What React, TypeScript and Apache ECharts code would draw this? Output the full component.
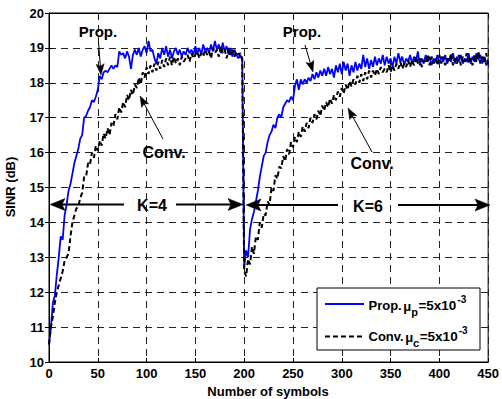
import React, { useEffect, useRef } from "react";
import * as echarts from "echarts";

// Symbol index (sampled every 2 symbols), 0..450
const SYMBOLS: number[] = Array.from({ length: 226 }, (_, i) => i * 2);

// Proposed scheme, K=4 phase (symbols 0..198)
const PROP_K4: number[] = [
  10.5, 11.0, 11.7, 11.9, 12.5, 13.0, 13.6, 13.5, 14.2, 14.5,
  14.9, 15.1, 15.4, 15.7, 15.9, 16.1, 16.4, 16.5, 17.0, 17.05,
  17.2, 17.3, 17.5, 17.45, 17.6, 17.8, 18.2, 18.1, 18.3, 18.35,
  18.3, 18.4, 18.5, 18.4, 18.5, 18.45, 18.9, 18.8, 18.85, 18.7,
  18.9, 18.75, 18.4, 18.8, 18.95, 18.8, 19.0, 18.75, 18.95, 19.05,
  18.85, 19.2, 18.9, 18.95, 18.7, 18.55, 18.85, 18.7, 19.0, 18.8,
  19.05, 18.75, 18.95, 18.7, 18.9, 19.0, 18.8, 18.95, 18.75, 18.9,
  18.8, 19.0, 18.85, 18.95, 18.8, 19.05, 18.85, 19.0, 18.8, 19.1,
  18.9, 19.0, 18.85, 19.1, 18.9, 19.2, 18.95, 19.1, 18.85, 19.15,
  18.9, 19.05, 18.8, 19.0, 18.75, 18.95, 18.8, 18.7, 18.8, 18.65,
];
// Proposed scheme, K=6 phase (symbols 200..450)
const PROP_K6: number[] = [
  12.7, 13.2, 13.0, 13.8, 14.1, 14.3, 14.6, 14.9, 15.3, 15.6,
  15.9, 16.0, 16.3, 16.5, 16.6, 16.8, 16.7, 17.0, 17.1, 17.0,
  17.3, 17.4, 17.5, 17.45, 17.6, 17.5, 17.9, 18.1, 17.8, 18.1,
  17.95, 18.1, 18.0, 18.15, 18.05, 18.25, 18.1, 18.3, 18.15, 18.35,
  18.2, 18.4, 18.2, 18.45, 18.25, 18.4, 18.15, 18.5, 18.3, 18.55,
  18.25, 18.6, 18.35, 18.55, 18.2, 18.5, 18.3, 18.6, 18.35, 18.55,
  18.4, 18.8, 18.45, 18.7, 18.4, 18.65, 18.45, 18.75, 18.5, 18.7,
  18.55, 18.8, 18.5, 18.75, 18.55, 18.7, 18.45, 18.75, 18.55, 18.85,
  18.6, 18.75, 18.5, 18.7, 18.6, 18.8, 18.55, 18.75, 18.6, 18.9,
  18.5, 18.7, 18.55, 18.8, 18.6, 18.75, 18.5, 18.7, 18.6, 18.8,
  18.55, 18.75, 18.6, 18.8, 18.55, 18.7, 18.6, 18.85, 18.55, 18.75,
  18.6, 18.8, 18.55, 18.7, 18.6, 18.85, 18.55, 18.75, 18.6, 18.85,
  18.65, 18.8, 18.55, 18.75, 18.5, 18.6,
];
// Conventional scheme, K=4 phase (symbols 0..198)
const CONV_K4: number[] = [
  10.5, 11.0, 11.3, 11.7, 12.0, 12.2, 12.4, 12.6, 12.9, 13.0,
  13.1, 13.6, 14.0, 14.2, 14.4,
  14.45, 14.7, 14.85, 15.3, 15.3, 15.7, 15.65, 16.0, 15.85, 16.2,
  16.05, 16.35, 16.2, 16.55, 16.4, 16.7, 16.5, 16.85, 16.75, 17.1,
  16.95, 17.3, 17.15, 17.45, 17.3, 17.65, 17.5, 17.8, 17.65, 17.95,
  17.85, 18.15, 17.95, 18.3, 18.15, 18.45, 18.25, 18.5, 18.3, 18.55,
  18.35, 18.6, 18.4, 18.65, 18.45, 18.7, 18.5, 18.75, 18.5, 18.75,
  18.55,
  18.7, 18.5, 18.75, 18.6, 18.7, 18.8, 18.6, 18.85, 18.7, 18.8,
  18.9, 18.7, 18.85, 18.75, 18.95, 18.8, 18.9, 18.7, 19.0, 18.85,
  18.95, 18.75, 19.05, 18.85, 18.95, 18.7, 19.0, 18.8, 18.95, 18.75,
  18.9, 18.8, 18.85, 18.7,
];
// Conventional scheme, K=6 phase (symbols 200..450)
const CONV_K6: number[] = [
  12.6, 12.45, 12.95, 12.8, 13.3, 13.1, 13.6, 13.5, 14.0, 13.85,
  14.25, 14.2, 14.6, 14.5, 15.0, 14.9, 15.35, 15.25, 15.6, 15.55,
  15.9, 15.75, 16.1, 15.95, 16.3, 16.15, 16.45, 16.3, 16.6, 16.45,
  16.75, 16.6, 16.85, 16.7, 17.0, 16.85, 17.1, 16.95, 17.2, 17.05,
  17.35, 17.2, 17.45, 17.3, 17.55, 17.4, 17.65, 17.5, 17.75, 17.6,
  17.85, 17.7, 17.95, 17.8, 18.05, 17.9, 18.1, 17.95, 18.2, 18.0,
  18.25, 18.05, 18.3, 18.1, 18.35, 18.15, 18.35, 18.2, 18.4, 18.25,
  18.45,
  18.3, 18.4, 18.3, 18.5, 18.3, 18.5, 18.35, 18.55, 18.4, 18.6,
  18.4, 18.55, 18.45, 18.65, 18.45, 18.65, 18.5, 18.75, 18.55, 18.7,
  18.45, 18.65, 18.55, 18.8, 18.5, 18.75, 18.55, 18.7, 18.5, 18.8,
  18.55, 18.75, 18.5, 18.7, 18.6, 18.85, 18.5, 18.7, 18.55, 18.8,
  18.5, 18.75, 18.6, 18.85, 18.55, 18.7, 18.5, 18.8, 18.6, 18.9,
  18.55, 18.75, 18.6, 18.85, 18.5,
];

const PROP: number[] = [...PROP_K4, ...PROP_K6];
const CONV: number[] = [...CONV_K4, ...CONV_K6];

const FONT = "'Liberation Sans', Arial, Helvetica, sans-serif";

let measureCtx: CanvasRenderingContext2D | null = null;
function textWidth(text: string, size: number): number {
  if (!measureCtx) measureCtx = document.createElement("canvas").getContext("2d");
  if (!measureCtx) return text.length * size * 0.6;
  measureCtx.font = `bold ${size}px ${FONT}`;
  return measureCtx.measureText(text).width;
}

function arrow(x1: number, y1: number, x2: number, y2: number, len: number, hw: number, lw: number) {
  const dx = x2 - x1;
  const dy = y2 - y1;
  const d = Math.hypot(dx, dy);
  const ux = dx / d;
  const uy = dy / d;
  const px = -uy;
  const py = ux;
  const bx = x2 - ux * len;
  const by = y2 - uy * len;
  const nx = x2 - ux * len * 0.8;
  const ny = y2 - uy * len * 0.8;
  return [
    {
      type: "line",
      shape: { x1, y1, x2: nx, y2: ny },
      style: { stroke: "#000", lineWidth: lw },
      z: 100,
    },
    {
      type: "polygon",
      shape: {
        points: [
          [x2, y2],
          [bx + px * hw, by + py * hw],
          [nx, ny],
          [bx - px * hw, by - py * hw],
        ],
      },
      style: { fill: "#000", stroke: "#000", lineWidth: 0.5 },
      z: 100,
    },
  ];
}

function label(text: string, x: number, y: number, size: number, z = 100) {
  return {
    type: "text",
    x,
    y,
    z,
    style: {
      text,
      fill: "#000",
      fontSize: size,
      fontWeight: "bold",
      fontFamily: FONT,
      align: "left",
      verticalAlign: "middle",
    },
  };
}

function centered(text: string, x: number, y: number, size: number) {
  const t: any = label(text, x, y, size);
  t.style.align = "center";
  return t;
}

function legendRow(name: string, sub: string, y: number) {
  const parts: { t: string; size: number; dy: number; gap: number }[] = [
    { t: name, size: 13, dy: 0, gap: 1.5 },
    { t: "μ", size: 13, dy: 1.5, gap: 0 },
    { t: sub, size: 11, dy: 7, gap: 0.5 },
    { t: "=5x10", size: 13.5, dy: 0, gap: 1 },
    { t: "-3", size: 10, dy: -6, gap: 0 },
  ];
  let x = 368.5;
  const out: any[] = [];
  for (const p of parts) {
    out.push(label(p.t, x, y + p.dy, p.size, 111));
    x += textWidth(p.t, p.size) + p.gap;
  }
  return out;
}

export default function App() {
  const ref = useRef<HTMLDivElement>(null);

  useEffect(() => {
    if (!ref.current) return;
    const chart = echarts.init(ref.current, undefined, { renderer: "svg" });

    const axisCommon = {
      type: "value",
      axisLine: { show: true, lineStyle: { color: "#000", width: 1 } },
      axisTick: { show: true, inside: true, length: 4, lineStyle: { color: "#000" } },
      axisLabel: {
        color: "#000",
        fontSize: 13,
        fontWeight: "bold",
        fontFamily: FONT,
        margin: 5,
      },
    };
    const split = {
      show: true,
      lineStyle: { color: "#222", width: 1, type: [7, 5] },
    };

    const option: any = {
      animation: false,
      backgroundColor: "#fff",
      grid: {
        left: 49,
        right: 11,
        top: 13,
        bottom: 37,
        show: true,
        borderColor: "#000",
        borderWidth: 1,
      },
      xAxis: [
        { ...axisCommon, min: 0, max: 450, interval: 50, splitLine: split },
        {
          ...axisCommon,
          position: "top",
          min: 0,
          max: 450,
          interval: 50,
          axisLabel: { show: false },
          splitLine: { show: false },
        },
      ],
      yAxis: [
        { ...axisCommon, min: 10, max: 20, interval: 1, splitLine: split },
        {
          ...axisCommon,
          position: "right",
          min: 10,
          max: 20,
          interval: 1,
          axisLabel: { show: false },
          splitLine: { show: false },
        },
      ],
      series: [
        {
          name: "Prop.",
          type: "line",
          xAxisIndex: 0,
          yAxisIndex: 0,
          data: SYMBOLS.map((s, i) => [s, PROP[i]]),
          showSymbol: false,
          symbol: "none",
          lineStyle: { color: "#0000ff", width: 1.8 },
          z: 3,
        },
        {
          name: "Conv.",
          type: "line",
          xAxisIndex: 0,
          yAxisIndex: 0,
          data: SYMBOLS.map((s, i) => [s, CONV[i]]),
          showSymbol: false,
          symbol: "none",
          lineStyle: { color: "#000", width: 2, type: [5, 3] },
          z: 4,
        },
      ],
      graphic: [
        {
          type: "text",
          x: 10,
          y: 187,
          rotation: Math.PI / 2,
          style: {
            text: "SINR (dB)",
            fill: "#000",
            fontSize: 13,
            fontWeight: "bold",
            fontFamily: FONT,
            align: "center",
            verticalAlign: "middle",
          },
        },
        centered("Number of symbols", 268, 391, 13),
        centered("Prop.", 98, 31, 15),
        ...arrow(98.5, 42, 101, 75, 11, 4, 1),
        centered("Prop.", 302, 31, 15),
        ...arrow(305, 45, 313, 72, 11, 4, 1),
        centered("Conv.", 164, 152, 16),
        ...arrow(163, 139, 140, 96, 11, 4, 1),
        centered("Conv.", 372, 163, 16),
        ...arrow(372, 152, 348, 108, 11, 4, 1),
        centered("K=4", 152, 205, 16),
        ...arrow(124, 204.5, 50, 204.5, 15, 6, 2),
        ...arrow(176, 204.5, 243, 204.5, 15, 6, 2),
        centered("K=6", 368, 206, 16),
        ...arrow(338, 205, 246, 205, 15, 6, 2),
        ...arrow(398, 205, 490, 205, 15, 6, 2),
        {
          type: "rect",
          z: 110,
          shape: { x: 317, y: 288, width: 163, height: 62 },
          style: { fill: "#fff", stroke: "#000", lineWidth: 1 },
        },
        {
          type: "line",
          z: 111,
          shape: { x1: 325, y1: 304, x2: 364, y2: 304 },
          style: { stroke: "#0000ff", lineWidth: 2 },
        },
        {
          type: "line",
          z: 111,
          shape: { x1: 325, y1: 336.5, x2: 364, y2: 336.5 },
          style: { stroke: "#000", lineWidth: 2, lineDash: [5, 3] },
        },
        ...legendRow("Prop.", "p", 305),
        ...legendRow("Conv.", "c", 336),
      ],
    };

    chart.setOption(option);
    return () => chart.dispose();
  }, []);

  return (
    <div
      ref={ref}
      style={{ position: "fixed", left: 0, top: 0, width: 502, height: 399, background: "#fff" }}
    />
  );
}
